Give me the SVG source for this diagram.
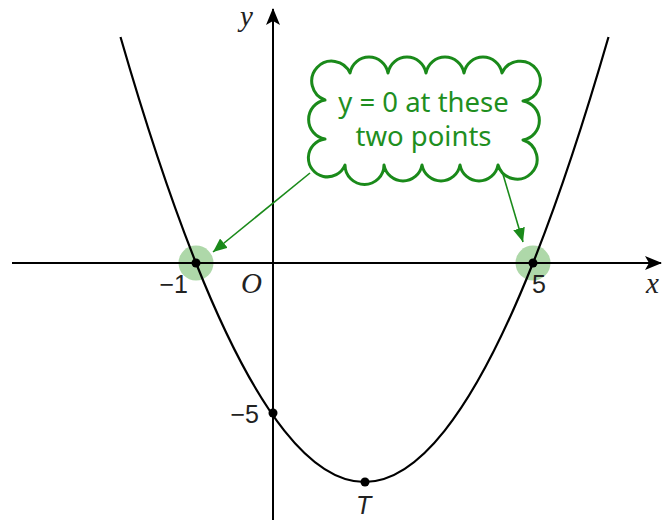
<svg xmlns="http://www.w3.org/2000/svg" width="662" height="520" viewBox="0 0 662 520">
<defs>
<style>
.axis{stroke:#000;stroke-width:2;fill:none}
.curve{stroke:#000;stroke-width:2.2;fill:none}
.dot{fill:#000}
.hl{fill:#8cc784;fill-opacity:0.7}
.lab{font-family:"Liberation Serif",serif;font-style:italic;font-size:29px;fill:#222}
.num{font-family:"Liberation Sans",Arial,sans-serif;font-size:25px;fill:#222}
.cloud{fill:#fff;stroke:#1a8a1a;stroke-width:3;stroke-linejoin:round}
.ctext{font-family:"Noto Sans",sans-serif;font-size:27.5px;fill:#1f8f1f;text-anchor:middle}
.conn{stroke:#1a8a1a;stroke-width:1.6;fill:none}
</style>
<marker id="ax" viewBox="0 0 17 14" refX="16" refY="7" markerWidth="17" markerHeight="14" markerUnits="userSpaceOnUse" orient="auto">
<path d="M0,0 L17,7 L0,14 L4,7 z" fill="#000"/>
</marker>
<marker id="ga" viewBox="0 0 14 12" refX="14" refY="6" markerWidth="14" markerHeight="12" markerUnits="userSpaceOnUse" orient="auto">
<path d="M0,0 L14,6 L0,12 z" fill="#1a8a1a"/>
</marker>
</defs>
<rect width="662" height="520" fill="#fff"/>
<g id="highlights">
<circle class="hl" cx="196" cy="263" r="17.5"/>
<circle class="hl" cx="533" cy="263" r="17.5"/>
</g>
<g id="axes">
<line class="axis" x1="12" y1="263" x2="661" y2="263" marker-end="url(#ax)"/>
<line class="axis" x1="273" y1="520" x2="273" y2="9" marker-end="url(#ax)"/>
<text class="lab" x="240" y="26">y</text>
<text class="lab" x="646" y="293" font-size="27">x</text>
<text class="lab" x="241" y="293">O</text>
</g>
<g id="curve">
<path class="curve" d="M120.5,37 Q158.9,169.9 196,263 Q241.1,376.25 284.5,430.85 Q325.1,482 364.5,482 Q403.9,482 444.5,430.85 Q487.9,376.25 533,263 Q570.1,169.9 608.5,37"/>
</g>
<g id="point-root-left">
<circle class="dot" cx="196" cy="263" r="4.5"/>
<text class="num" x="188" y="293" text-anchor="end">−1</text>
</g>
<g id="point-root-right">
<circle class="dot" cx="533" cy="263" r="4.5"/>
<text class="num" x="532" y="293">5</text>
</g>
<g id="point-intercept">
<circle class="dot" cx="273" cy="413" r="4.5"/>
<text class="num" x="259" y="423" text-anchor="end">−5</text>
</g>
<g id="point-T">
<circle class="dot" cx="365" cy="482" r="4.5"/>
<text class="num" x="356" y="514" font-style="italic" font-size="27">T</text>
</g>
<g id="connectors">
<line class="conn" x1="310" y1="173" x2="213" y2="252" marker-end="url(#ga)"/>
<line class="conn" x1="502" y1="171" x2="523" y2="242" marker-end="url(#ga)"/>
</g>
<g id="callout">
<path class="cloud" d="M350,73 A19.3,19.3 0 0 1 388,73 A19.3,19.3 0 0 1 426,73 A19.3,19.3 0 0 1 464,73 A19.3,19.3 0 0 1 502,73 A20,20 0 1 1 523,101 A19.8,19.8 0 0 1 523,140 A20,20 0 1 1 498,165 A19.3,19.3 0 0 1 460,165 A19.3,19.3 0 0 1 422,165 A19.3,19.3 0 0 1 384,165 A19.3,19.3 0 0 1 345,165 A19,19 0 1 1 325,139 A19.8,19.8 0 0 1 325,100 A20,20 0 1 1 350,73 Z"/>
<text class="ctext" x="423.5" y="112">y = 0 at these</text>
<text class="ctext" x="423.5" y="146">two points</text>
</g>
</svg>
